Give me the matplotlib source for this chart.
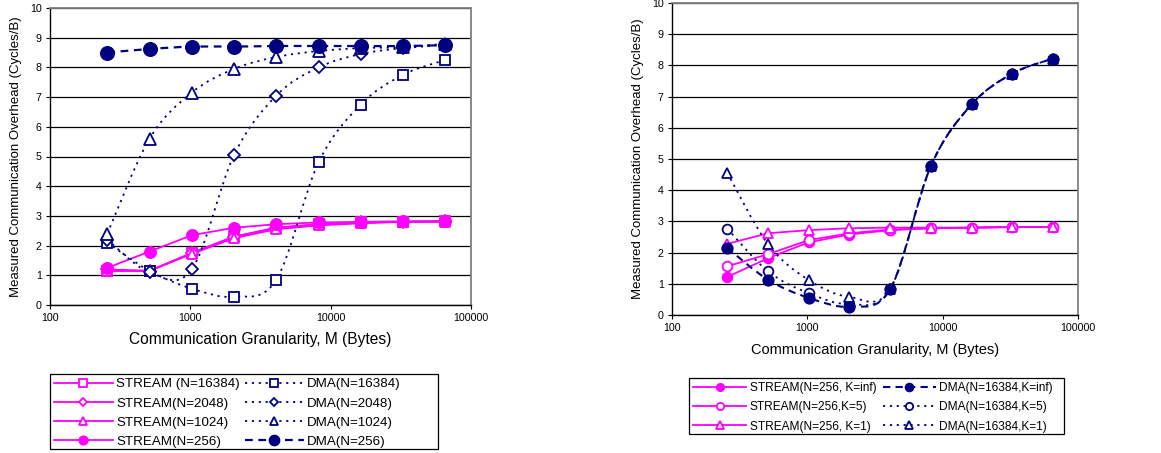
import numpy as np
import matplotlib
matplotlib.use("Agg")
import matplotlib.pyplot as plt
from matplotlib.path import Path
from matplotlib.patches import PathPatch, Rectangle
from matplotlib.lines import Line2D

# ---------------- data ----------------
M = [256, 512, 1024, 2048, 4096, 8192, 16384, 32768, 65536]

# left panel
stream_16384 = [1.15, 1.15, 1.75, 2.30, 2.60, 2.72, 2.78, 2.80, 2.82]
stream_2048 = [1.20, 1.15, 1.75, 2.30, 2.60, 2.72, 2.78, 2.80, 2.82]
stream_1024 = [1.15, 1.15, 1.72, 2.25, 2.55, 2.68, 2.75, 2.80, 2.80]
stream_256 = [1.25, 1.80, 2.35, 2.60, 2.72, 2.78, 2.80, 2.82, 2.82]
dma_16384 = [2.10, 1.15, 0.55, 0.28, 0.85, 4.80, 6.75, 7.75, 8.25]
dma_2048 = [2.20, 1.10, 1.20, 5.05, 7.05, 8.00, 8.45, 8.65, 8.75]
dma_1024 = [2.40, 5.60, 7.15, 7.95, 8.35, 8.55, 8.65, 8.68, 8.80]
dma_256 = [8.50, 8.62, 8.70, 8.70, 8.72, 8.72, 8.72, 8.72, 8.75]

# right panel
stream_kinf = [1.22, 1.82, 2.33, 2.58, 2.72, 2.78, 2.80, 2.82, 2.82]
stream_k5 = [1.56, 1.95, 2.40, 2.62, 2.74, 2.78, 2.80, 2.82, 2.82]
stream_k1 = [2.28, 2.62, 2.72, 2.78, 2.80, 2.80, 2.80, 2.82, 2.82]
dma_kinf = [2.15, 1.13, 0.55, 0.27, 0.83, 4.78, 6.75, 7.74, 8.22]
dma_k5 = [2.77, 1.40, 0.70, 0.35, 0.83, 4.78, 6.75, 7.74, 8.22]
dma_k1 = [4.56, 2.27, 1.12, 0.58, 0.83, 4.78, 6.75, 7.74, 8.22]

labels_left = ["STREAM (N=16384)", "STREAM(N=2048)", "STREAM(N=1024)", "STREAM(N=256)",
               "DMA(N=16384)", "DMA(N=2048)", "DMA(N=1024)", "DMA(N=256)"]
labels_right = ["STREAM(N=256, K=inf)", "STREAM(N=256,K=5)", "STREAM(N=256, K=1)",
                "DMA(N=16384,K=inf)", "DMA(N=16384,K=5)", "DMA(N=16384,K=1)"]
xlabel = "Communication Granularity, M (Bytes)"
ylabel = "Measured Communication Overhead (Cycles/B)"

NAVY = "#000080"
PINK = "#FF00FF"

plt.rcParams['font.family'] = ['Liberation Sans', 'DejaVu Sans']

W, H = 1161, 453
fig = plt.figure(figsize=(W / 100, H / 100), dpi=100)
axL = fig.add_axes([50 / W, 1 - 305 / H, 421 / W, 297 / H])
axR = fig.add_axes([672 / W, 1 - 315 / H, 406 / W, 312 / H])


def smooth_path(xs, ys):
    """Excel-like smoothed line through the points (Bezier in log-x space)."""
    lx = np.log10(np.asarray(xs, float))
    y = np.asarray(ys, float)
    n = len(lx)
    verts = [(lx[0], y[0])]
    codes = [Path.MOVETO]
    for i in range(n - 1):
        p0 = np.array([lx[max(i - 1, 0)], y[max(i - 1, 0)]])
        p1 = np.array([lx[i], y[i]])
        p2 = np.array([lx[i + 1], y[i + 1]])
        p3 = np.array([lx[min(i + 2, n - 1)], y[min(i + 2, n - 1)]])
        c1 = p1 + (p2 - p0) / 6.0
        c2 = p2 - (p3 - p1) / 6.0
        verts += [tuple(c1), tuple(c2), tuple(p2)]
        codes += [Path.CURVE4] * 3
    verts = [(10 ** vx, vy) for vx, vy in verts]
    return Path(verts, codes)


def draw(ax, ys, color, ls, marker, ms, filled, lw=1.3, smooth=False, z=3):
    if smooth:
        patch = PathPatch(smooth_path(M, ys), facecolor='none', edgecolor=color,
                          linewidth=lw, linestyle=ls, zorder=z)
        ax.add_patch(patch)
    else:
        ax.plot(M, ys, color=color, linestyle=ls, linewidth=lw, zorder=z)
    ax.plot(M, ys, linestyle='none', marker=marker, markersize=ms,
            markerfacecolor=color if filled else 'white', markeredgecolor=color,
            markeredgewidth=1.3, zorder=z + 1)
    return Line2D([], [], color=color, linestyle=ls, linewidth=lw, marker=marker,
                  markersize=ms * 0.75, markerfacecolor=color if filled else 'white',
                  markeredgecolor=color, markeredgewidth=1.3)


DOT = (0, (1.2, 2.6))
DASH = (0, (3.5, 2.5))

# ---------- left panel ----------
hL = []
hL.append(draw(axL, stream_16384, PINK, '-', 's', 7, False))
hL.append(draw(axL, stream_2048, PINK, '-', 'D', 6, False))
hL.append(draw(axL, stream_1024, PINK, '-', '^', 7, False))
hL.append(draw(axL, stream_256, PINK, '-', 'o', 8, True))
hL.append(draw(axL, dma_16384, NAVY, DOT, 's', 7, False, smooth=True))
hL.append(draw(axL, dma_2048, NAVY, DOT, 'D', 6, False, smooth=True))
hL.append(draw(axL, dma_1024, NAVY, DOT, '^', 8, False, smooth=True))
hL.append(draw(axL, dma_256, NAVY, DASH, 'o', 9.5, True, lw=1.6, smooth=True))

# ---------- right panel ----------
hR = []
hR.append(draw(axR, stream_kinf, PINK, '-', 'o', 7, True))
hR.append(draw(axR, stream_k5, PINK, '-', 'o', 7, False))
hR.append(draw(axR, stream_k1, PINK, '-', '^', 7, False))
hR.append(draw(axR, dma_kinf, NAVY, DASH, 'o', 7.5, True, lw=1.5, smooth=True, z=6))
hR.append(draw(axR, dma_k5, NAVY, DOT, 'o', 7, False, smooth=True))
hR.append(draw(axR, dma_k1, NAVY, DOT, '^', 7, False, smooth=True))

for ax in (axL, axR):
    ax.set_xscale('log')
    ax.set_xlim(100, 100000)
    ax.set_ylim(0, 10)
    ax.set_yticks(range(0, 11))
    ax.set_xticks([100, 1000, 10000, 100000])
    ax.set_xticklabels(["100", "1000", "10000", "100000"])
    ax.minorticks_off()
    ax.yaxis.grid(True, color='black', linewidth=0.9)
    ax.set_axisbelow(True)
    ax.tick_params(axis='both', labelsize=7.7, length=3, width=0.8, direction='out', pad=3)
    ax.tick_params(axis='x', pad=3)
    for s in ('top', 'right'):
        ax.spines[s].set_color('#808080')
        ax.spines[s].set_linewidth(1.3)
    for s in ('left', 'bottom'):
        ax.spines[s].set_color('black')
        ax.spines[s].set_linewidth(1.0)
    ax.set_ylabel(ylabel, fontsize=9.5, labelpad=6)

axL.set_xlabel(xlabel, fontsize=11.2, labelpad=6)
axR.set_xlabel(xlabel, fontsize=10.5, labelpad=7)

legL = fig.legend(hL, labels_left, ncol=2, loc='upper left',
                  bbox_to_anchor=(50 / W, 1 - 374 / H), fontsize=9.6,
                  handlelength=4.4, handletextpad=0.25, columnspacing=0.4,
                  labelspacing=0.52, borderpad=0.3, frameon=False,
                  borderaxespad=0)

legR = fig.legend(hR, labels_right, ncol=2, loc='upper left',
                  bbox_to_anchor=(689 / W, 1 - 378 / H), fontsize=8.6,
                  handlelength=4.45, handletextpad=0.3, columnspacing=0.5,
                  labelspacing=0.6, borderpad=0.35, frameon=False,
                  borderaxespad=0)

# legend frames (Excel-style boxes, wider than the entries)
for (x0, y0, x1, y1) in [(50, 374, 438, 449), (689, 378, 1064, 434)]:
    fig.add_artist(Rectangle((x0 / W, 1 - y1 / H), (x1 - x0) / W, (y1 - y0) / H,
                             transform=fig.transFigure, facecolor='none',
                             edgecolor='black', linewidth=0.9))

fig.savefig("out.png", dpi=100, facecolor='white')
